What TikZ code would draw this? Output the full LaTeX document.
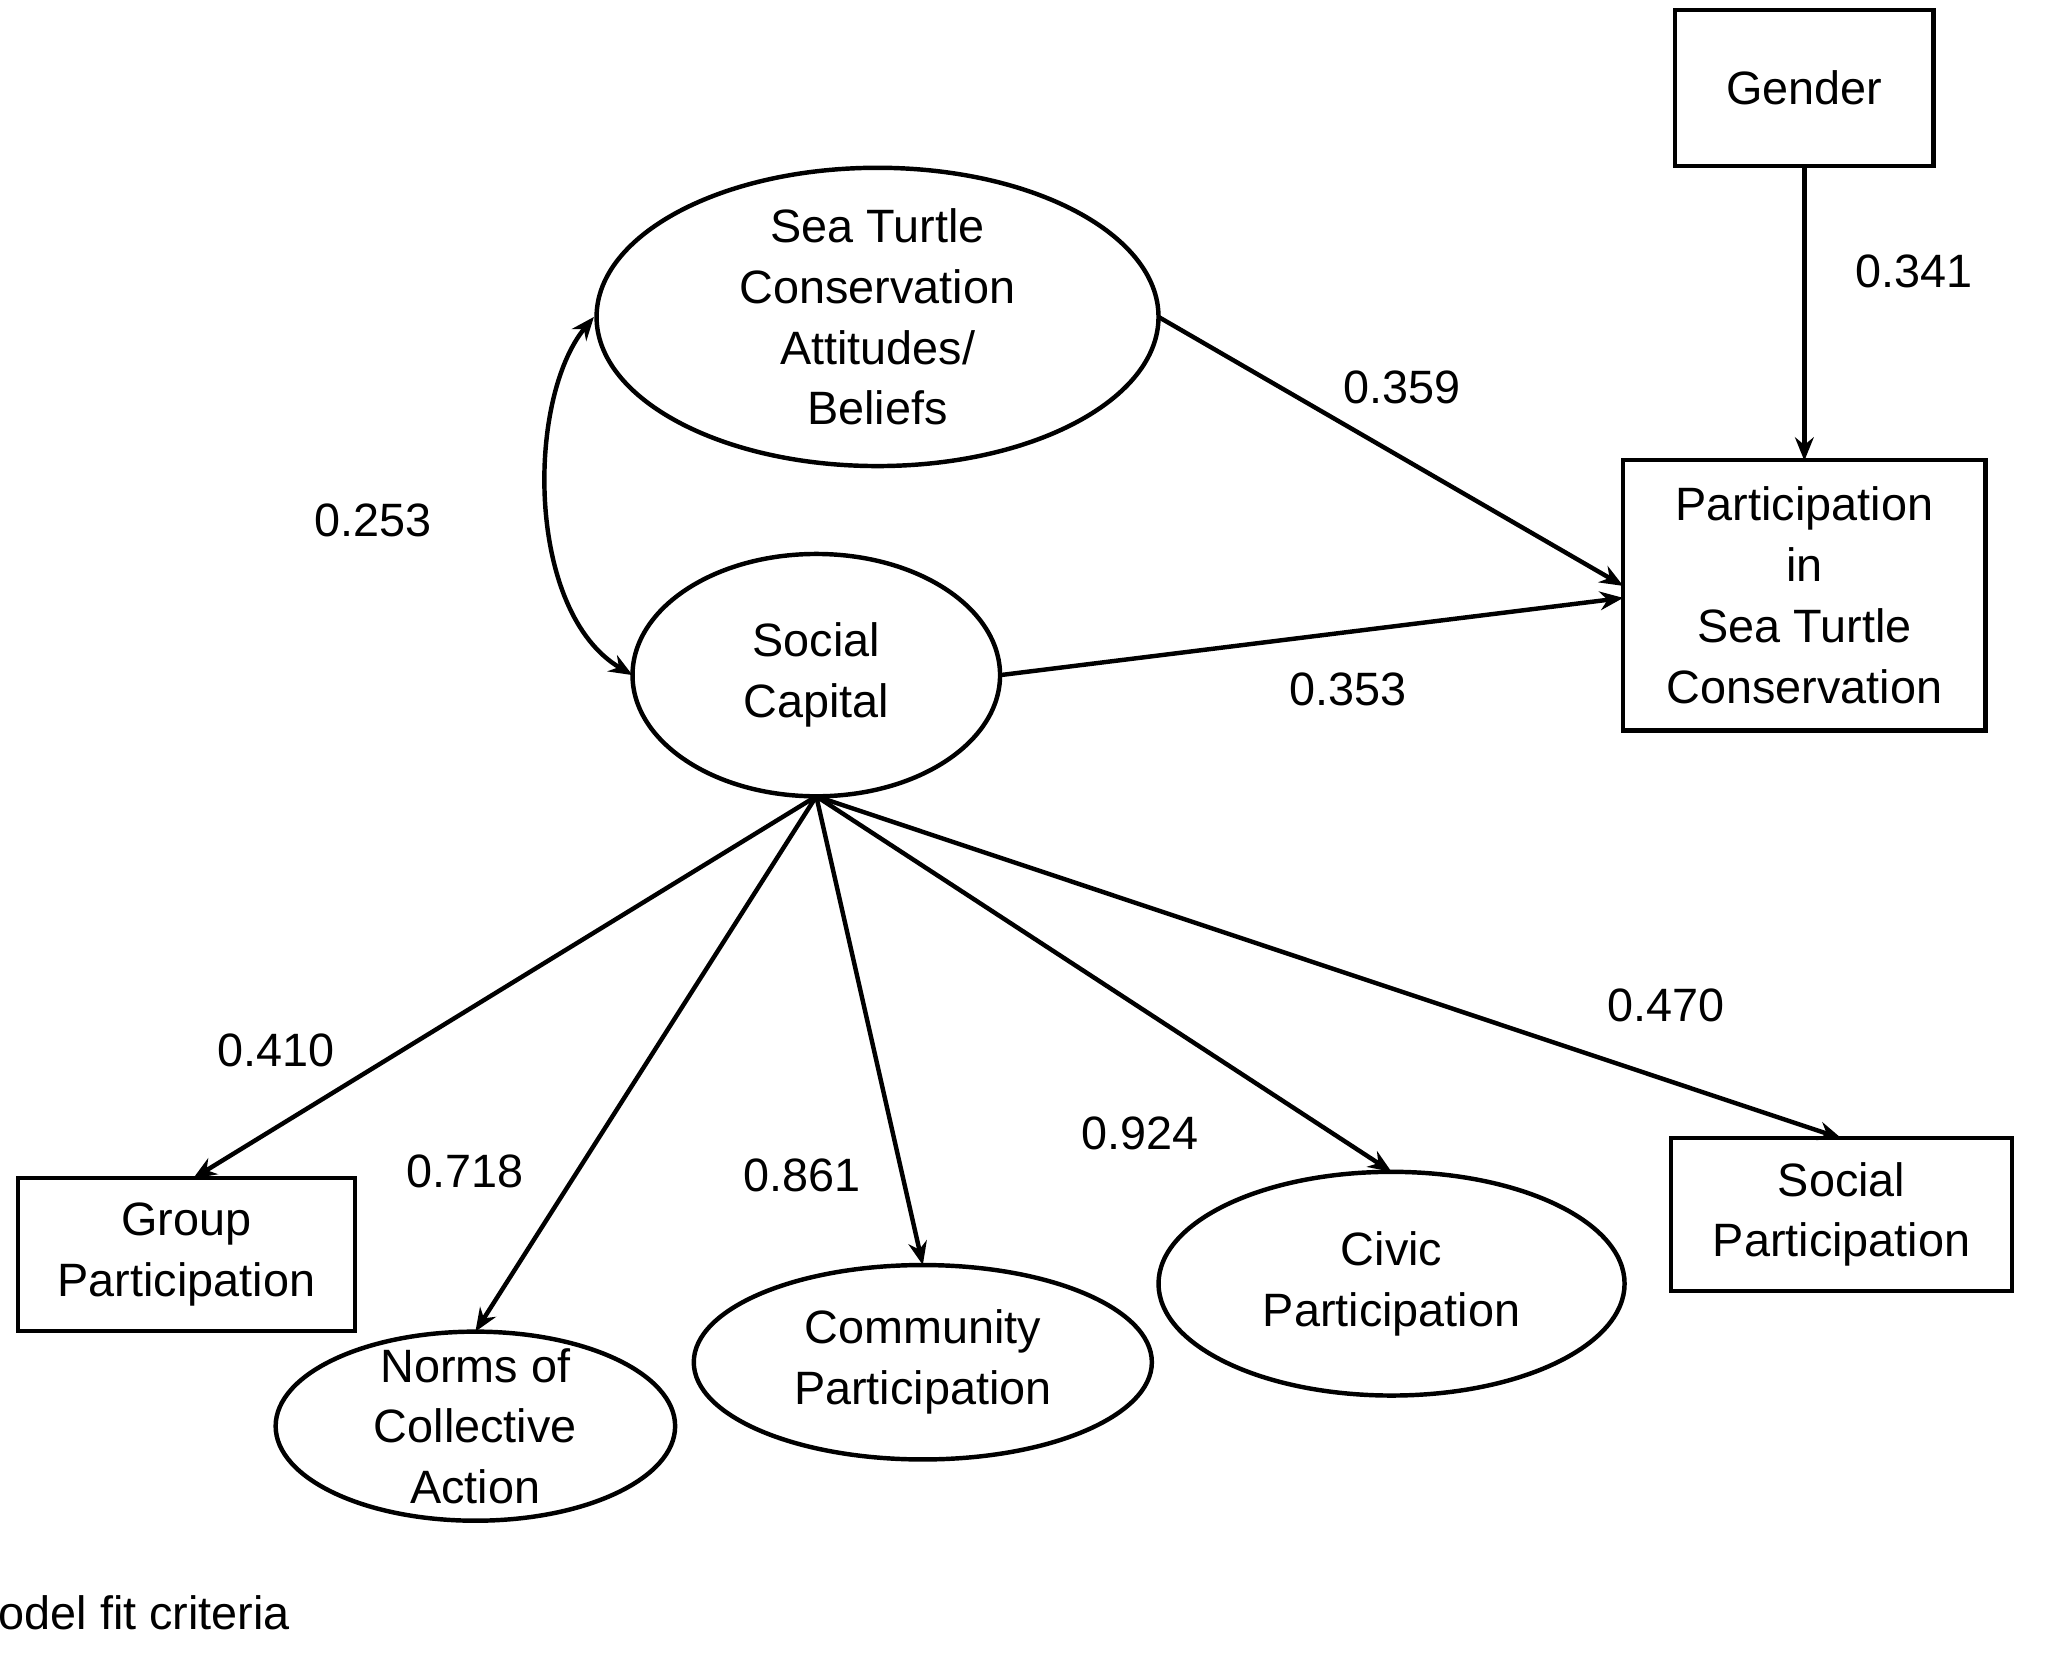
\documentclass[tikz,border=0pt]{standalone}
\usepackage{fontspec}
\setmainfont{Liberation Sans}
\usetikzlibrary{arrows.meta}
\begin{document}
\begin{tikzpicture}[x=0.02cm,y=-0.02cm,
  every node/.style={font=\fontsize{20}{26}\selectfont,align=center},
  box/.style={draw,line width=1.9pt,inner sep=0pt},
  conn/.style={line width=1.9pt,-{Stealth[length=10pt,width=8pt,open]}}]
\useasboundingbox (0,0) rectangle (1550,1243);
\clip (0,0) rectangle (1550,1243);
\node[box,minimum width=194*0.02cm,minimum height=117*0.02cm] (g) at (1355,66) {Gender};
\node[box,minimum width=272*0.02cm,minimum height=203*0.02cm] (p) at (1355,447) {Participation\\in\\Sea Turtle\\Conservation};
\draw[line width=1.9pt] (659,238) ellipse [x radius=211,y radius=112];
\node (st) at (659,238) {Sea Turtle\\Conservation\\Attitudes/\\Beliefs};
\draw[line width=1.9pt] (613,507) ellipse [x radius=138,y radius=91];
\node (sc) at (613,507) {Social\\Capital};
\node[box,minimum width=253*0.02cm,minimum height=115*0.02cm] (gp) at (140,942) {Group\\Participation};
\draw[line width=1.9pt] (357,1071) ellipse [x radius=150,y radius=71];
\node (n) at (357,1071) {Norms of\\Collective\\Action};
\draw[line width=1.9pt] (693,1023) ellipse [x radius=172,y radius=73];
\node (cp) at (693,1023) {Community\\Participation};
\draw[line width=1.9pt] (1045,964) ellipse [x radius=175,y radius=84];
\node (cv) at (1045,964) {Civic\\Participation};
\node[box,minimum width=256*0.02cm,minimum height=115*0.02cm] (sp) at (1383,912) {Social\\Participation};
\coordinate (gb) at (1355,125); \coordinate (pt) at (1355,346);
\coordinate (ste) at (870,238); \coordinate (pw1) at (1219,440);
\coordinate (sce) at (751,507); \coordinate (pw2) at (1219,449);
\coordinate (stw) at (446,238); \coordinate (scw) at (475,507);
\coordinate (scb) at (613,598);
\coordinate (t1) at (145,885); \coordinate (t2) at (357,1000);
\coordinate (t3) at (693,950); \coordinate (t4) at (1045,880);
\coordinate (t5) at (1383,855);
\draw[conn] (gb) -- (pt);
\draw[conn] (ste) -- (pw1);
\draw[conn] (sce) -- (pw2);
\draw[line width=1.9pt,{Stealth[length=10pt,width=8pt,open]}-{Stealth[length=10pt,width=8pt,open]}] (stw) .. controls (395,300) and (395,460) .. (scw);
\foreach \t in {t1,t2,t3,t4,t5} \draw[conn] (scb) -- (\t);
\node at (1437,204) {0.341};
\node at (1053,291) {0.359};
\node at (280,391) {0.253};
\node at (1012,518) {0.353};
\node at (207,789) {0.410};
\node at (349,880) {0.718};
\node at (602,883) {0.861};
\node at (856,851) {0.924};
\node at (1251,755) {0.470};
\node[anchor=east] at (224,1211) {Model fit criteria};
\end{tikzpicture}
\end{document}
